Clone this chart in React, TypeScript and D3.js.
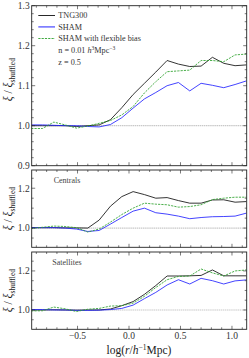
import * as d3 from "d3";

// bins in log(r / h^-1 Mpc)
const logR = [-0.95, -0.84, -0.73, -0.62, -0.51, -0.4, -0.29, -0.18, -0.07, 0.04, 0.15, 0.26, 0.37, 0.48, 0.59, 0.7, 0.81, 0.92, 1.03, 1.14];

// all galaxies
const allTng = [1.0, 1.0, 1.0, 1.0, 0.998, 1.0, 1.002, 1.015, 1.045, 1.078, 1.106, 1.134, 1.163, 1.154, 1.148, 1.149, 1.171, 1.156, 1.15, 1.152];
const allSham = [1.002, 1.002, 1.001, 1.0, 1.0, 0.998, 0.997, 1.003, 1.02, 1.044, 1.067, 1.083, 1.1, 1.108, 1.087, 1.106, 1.101, 1.095, 1.103, 1.112];
const allFlex = [0.993, 0.993, 1.009, 1.002, 0.994, 0.999, 1.006, 1.013, 1.027, 1.048, 1.082, 1.11, 1.135, 1.137, 1.139, 1.163, 1.163, 1.16, 1.177, 1.179];

// centrals
const cenTng = [1.002, 1.002, 1.002, 1.001, 1.001, 1.0, 1.04, 1.11, 1.158, 1.183, 1.168, 1.15, 1.153, 1.138, 1.125, 1.125, 1.141, 1.142, 1.13, 1.133];
const cenSham = [1.002, 1.002, 1.002, 1.0, 0.995, 0.983, 0.988, 1.02, 1.053, 1.085, 1.1, 1.077, 1.07, 1.06, 1.047, 1.053, 1.057, 1.058, 1.06, 1.075];
const cenFlex = [0.998, 1.004, 1.01, 1.008, 1.002, 0.98, 0.995, 1.03, 1.068, 1.1, 1.125, 1.12, 1.117, 1.105, 1.108, 1.117, 1.143, 1.15, 1.155, 1.155];

// satellites
const satTng = [1.0, 1.0, 1.001, 1.0, 0.999, 1.0, 1.0, 1.005, 1.022, 1.043, 1.08, 1.125, 1.174, 1.174, 1.175, 1.177, 1.205, 1.175, 1.175, 1.175];
const satSham = [1.002, 1.002, 1.0, 1.0, 0.998, 0.998, 0.999, 1.002, 1.008, 1.025, 1.058, 1.09, 1.128, 1.155, 1.133, 1.162, 1.15, 1.133, 1.149, 1.154];
const satFlex = [0.995, 0.996, 1.015, 1.006, 0.992, 1.004, 1.008, 1.02, 1.022, 1.035, 1.07, 1.115, 1.155, 1.172, 1.174, 1.21, 1.19, 1.174, 1.2, 1.205];

const xTicks = [-0.5, 0, 0.5, 1.0];
const xTickLabels = ["\u22120.5", "0.0", "0.5", "1.0"];
const legendLabels = ["TNG300", "SHAM", "SHAM with flexible bias"];

const FONT = "'Liberation Serif', 'Times New Roman', serif";
const colors = { tng: "#111", sham: "#2222ff", flex: "#2ca02c" };

const left = 31.7;
const right = 246.7;

type Panel = {
  top: number;
  bottom: number;
  domain: [number, number];
  major: number[];
  minorStep: number;
  title?: string;
  series: number[][];
};

const panels: Panel[] = [
  { top: 5.7, bottom: 165.7, domain: [0.9, 1.3], major: [0.9, 1.0, 1.1, 1.2, 1.3], minorStep: 0.02, series: [allTng, allSham, allFlex] },
  { top: 170, bottom: 247.3, domain: [0.9035, 1.2915], major: [1.0, 1.2], minorStep: 0.05, title: "Centrals", series: [cenTng, cenSham, cenFlex] },
  { top: 252, bottom: 329.3, domain: [0.901, 1.297], major: [1.0, 1.2], minorStep: 0.05, title: "Satellites", series: [satTng, satSham, satFlex] },
];

const x = d3.scaleLinear().domain([-0.945, 1.143]).range([left, right]);

function PanelView({ p, idx }: { p: Panel; idx: number }) {
  const y = d3.scaleLinear().domain(p.domain).range([p.bottom, p.top]);
  const line = d3
    .line<number>()
    .x((_, i) => x(logR[i]))
    .y((d) => y(d));
  const clipId = `clip${idx}`;
  const xMinor = d3.range(-0.9, 1.15, 0.1).filter((v) => !xTicks.some((t) => Math.abs(t - v) < 1e-6));
  const yMinor = d3
    .range(Math.ceil(p.domain[0] / p.minorStep) * p.minorStep, p.domain[1] + 1e-9, p.minorStep)
    .filter((v) => !p.major.some((t) => Math.abs(t - v) < 1e-6));
  const styles = [
    { stroke: colors.tng, dash: undefined },
    { stroke: colors.sham, dash: undefined },
    { stroke: colors.flex, dash: "2.2,1.1" },
  ];
  return (
    <g>
      <defs>
        <clipPath id={clipId}>
          <rect x={left} y={p.top} width={right - left} height={p.bottom - p.top} />
        </clipPath>
      </defs>
      <g clipPath={`url(#${clipId})`}>
        <line x1={left} x2={right} y1={y(1)} y2={y(1)} stroke="#c8c8c8" strokeWidth={1.2} strokeDasharray="1.5,0.6" />
        {p.series.map((s, i) => (
          <path key={i} d={line(s) ?? ""} fill="none" stroke={styles[i].stroke} strokeWidth={0.85} strokeDasharray={styles[i].dash} />
        ))}
      </g>
      {/* ticks */}
      <g stroke="#222" strokeWidth={0.6}>
        {xTicks.map((t) => (
          <g key={`xm${t}`}>
            <line x1={x(t)} x2={x(t)} y1={p.bottom} y2={p.bottom - 3.5} />
            <line x1={x(t)} x2={x(t)} y1={p.top} y2={p.top + 3.5} />
          </g>
        ))}
        {xMinor.map((t) => (
          <g key={`xn${t}`}>
            <line x1={x(t)} x2={x(t)} y1={p.bottom} y2={p.bottom - 2} />
            <line x1={x(t)} x2={x(t)} y1={p.top} y2={p.top + 2} />
          </g>
        ))}
        {p.major.map((t) => (
          <g key={`ym${t}`}>
            <line x1={left} x2={left + 3.5} y1={y(t)} y2={y(t)} />
            <line x1={right} x2={right - 3.5} y1={y(t)} y2={y(t)} />
          </g>
        ))}
        {yMinor.map((t) => (
          <g key={`yn${t}`}>
            <line x1={left} x2={left + 2} y1={y(t)} y2={y(t)} />
            <line x1={right} x2={right - 2} y1={y(t)} y2={y(t)} />
          </g>
        ))}
      </g>
      <rect x={left} y={p.top} width={right - left} height={p.bottom - p.top} fill="none" stroke="#222" strokeWidth={0.9} />
      {/* y tick labels */}
      <g fontFamily={FONT} fontSize={9.5} fill="#333" textAnchor="end">
        {p.major.map((t) => (
          <text key={t} x={left - 2} y={y(t) + 3.3}>
            {d3.format(".1f")(t)}
          </text>
        ))}
      </g>
      <text
        transform={`translate(${12}, ${(p.top + p.bottom) / 2 - (idx === 0 ? 6 : 0)}) rotate(-90)`}
        fontFamily={FONT}
        fontSize={11.5}
        fill="#222"
        textAnchor="middle"
      >
        <tspan fontStyle="italic">ξ</tspan>
        <tspan> / </tspan>
        <tspan fontStyle="italic">ξ</tspan>
        <tspan fontSize={7.5} dy={2.5}>shuffled</tspan>
      </text>
      {p.title && (
        <text x={67} y={p.top + 13} fontFamily={FONT} fontSize={8} fill="#444" textAnchor="middle">
          {p.title}
        </text>
      )}
    </g>
  );
}

export default function App() {
  const legendY = [15.5, 26.9, 38.5];
  const legendStyles = [
    { stroke: colors.tng, dash: undefined, w: 0.9 },
    { stroke: "#5555ff", dash: undefined, w: 1.3 },
    { stroke: colors.flex, dash: "2.2,1.1", w: 0.9 },
  ];
  const last = panels[2];
  return (
    <svg width={249} height={358} style={{ position: "absolute", left: 0, top: 0, background: "#fff" }}>
      {panels.map((p, i) => (
        <PanelView key={i} p={p} idx={i} />
      ))}
      {/* legend */}
      <g fontFamily={FONT} fontSize={8.2} fill="#333">
        {legendLabels.map((l, i) => (
          <g key={l}>
            <line x1={38.3} x2={55} y1={legendY[i]} y2={legendY[i]} stroke={legendStyles[i].stroke} strokeWidth={legendStyles[i].w} strokeDasharray={legendStyles[i].dash} />
            <text x={58.3} y={legendY[i] + 2.8}>{l}</text>
          </g>
        ))}
        <text x={58.3} y={52.8}>
          n = 0.01 <tspan fontStyle="italic">h</tspan>
          <tspan fontSize={5.5} dy={-3}>3</tspan>
          <tspan dy={3}>Mpc</tspan>
          <tspan fontSize={5.5} dy={-3}>−3</tspan>
        </text>
        <text x={58.3} y={65.3}>z = 0.5</text>
      </g>
      {/* x tick labels */}
      <g fontFamily={FONT} fontSize={9.5} fill="#333" textAnchor="middle">
        {xTicks.map((t, i) => (
          <text key={t} x={x(t)} y={last.bottom + 10}>
            {xTickLabels[i]}
          </text>
        ))}
      </g>
      <text x={139} y={353.5} fontFamily={FONT} fontSize={11.5} fill="#222" textAnchor="middle">
        log(<tspan fontStyle="italic">r</tspan>/<tspan fontStyle="italic">h</tspan>
        <tspan fontSize={7.5} dy={-4}>−1</tspan>
        <tspan dy={4}>Mpc)</tspan>
      </text>
    </svg>
  );
}
